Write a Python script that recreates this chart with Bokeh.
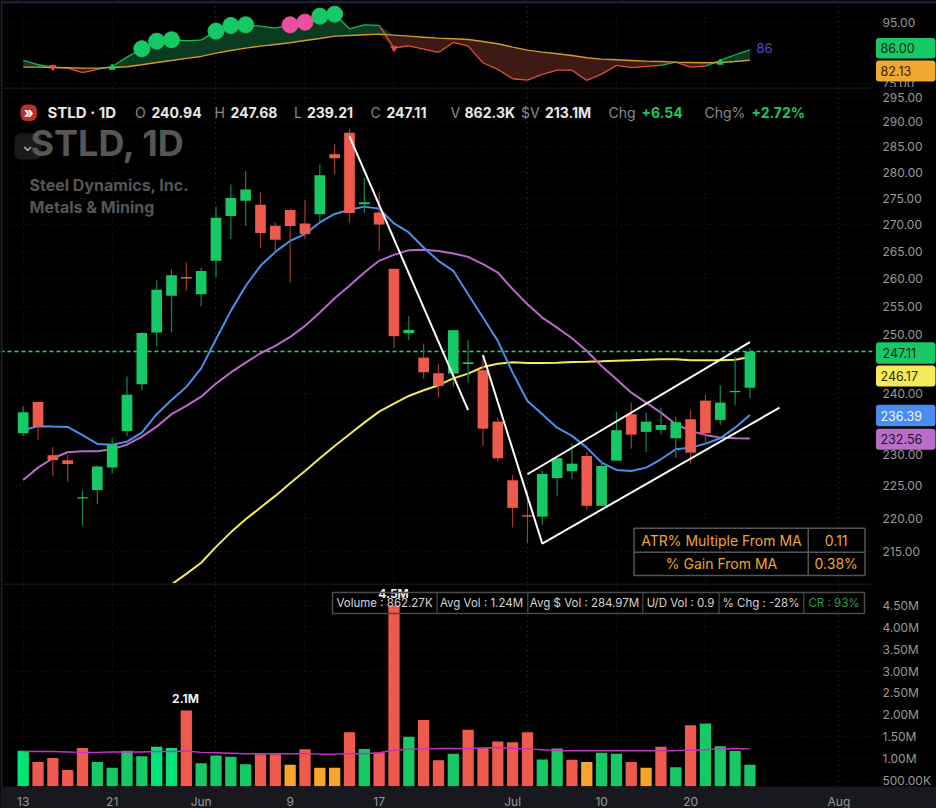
from bokeh.embed import file_html
from bokeh.resources import INLINE
from bokeh.layouts import column
from bokeh.models import (BoxAnnotation, FixedTicker, GlobalInlineStyleSheet, Grid, Label, Range1d,
                          PrintfTickFormatter)
from bokeh.plotting import figure

opens = [233.43,238.58,229.85,229.06,223.02,224.37,227.89,233.8,241.54,250.39,256.89,260.31,257.19,263.24,271.6,274.52,273.76,269.75,272.75,270.19,
         271.91,283.57,287.85,273.82,272.27,261.78,250.28,246.06,243.4,243.33,244.97,243.9,235.31,225.89,220.45,220.23,226.25,227.32,229.75,221.9,
         229.0,236.54,233.64,233.96,232.61,235.71,238.79,235.6,240.19,240.94]
highs = [237.91,238.7,231.2,229.9,224.32,228.27,232.61,242.82,250.46,259.71,261.65,262.93,262.02,273.38,277.62,280.28,276.12,270.38,273.0,274.66,
         281.54,285.64,288.65,278.91,276.26,261.78,253.28,248.48,245.02,250.81,249.07,246.35,235.98,226.73,224.21,227.37,229.38,231.74,230.38,229.06,
         236.92,238.46,236.8,237.63,236.09,237.2,239.74,241.37,246.17,247.68]
lows = [232.99,232.29,226.57,225.67,218.92,222.24,226.94,232.94,240.52,247.96,250.39,257.79,255.09,260.18,267.27,269.75,265.58,265.07,259.28,267.27,
        270.38,279.69,270.38,272.16,265.07,247.73,249.12,242.48,239.29,241.08,241.81,231.36,228.84,218.56,216.21,218.97,223.44,226.1,221.32,221.9,
        229.0,230.93,230.39,233.26,229.48,228.52,231.74,234.77,238.03,239.21]
closes = [236.87,234.5,229.09,228.48,223.24,228.05,231.57,239.78,250.33,257.97,260.62,260.0,261.36,271.28,275.04,276.65,268.39,267.13,269.7,268.2,
          279.42,282.78,272.16,274.2,270.0,249.76,250.86,243.56,241.25,250.81,245.26,234.17,229.38,221.58,220.23,226.89,229.38,228.52,221.9,228.16,
          233.91,233.2,235.31,234.77,235.22,230.28,233.43,238.46,240.41,247.11]
ma_blue = [233.96,234.56,234.5,234.45,233.1,231.69,231.57,232.06,233.52,236.54,238.9,241.08,244.22,249.23,254.21,258.66,262.33,264.89,266.95,268.2,
           270.38,271.98,272.8,273.38,273.0,270.19,268.5,265.69,263.24,261.41,257.19,253.03,248.95,243.5,238.74,236.54,234.33,232.99,231.09,228.68,
           227.52,227.37,227.89,229.22,230.83,231.09,231.74,232.61,234.33,236.39]
ma_purple = [225.94,227.89,229.38,230.34,230.5,230.5,230.83,231.57,232.87,234.5,236.54,237.91,239.45,241.64,243.53,245.19,246.81,248.09,249.63,251.56,
             253.91,256.47,258.69,261.1,263.24,264.34,265.21,265.26,265.07,264.58,263.97,262.64,261.1,258.09,255.4,253.03,251.26,249.4,247.2,244.63,
             242.39,240.12,238.46,236.8,234.89,233.8,233.15,232.71,232.59,232.56]
yellow_first_bar = 9
ma_yellow = [207.9,210.06,211.62,213.27,215.64,217.83,219.83,221.63,223.44,225.41,227.37,229.38,231.36,233.26,235.15,236.97,238.29,239.57,240.52,241.37,
             242.53,243.33,244.45,245.02,245.26,245.14,245.14,245.19,245.31,245.36,245.43,245.53,245.6,245.71,245.78,245.78,245.6,245.6,245.6,245.71,246.17]
rsi = [82.52,81.12,80.34,80.02,78.52,79.59,80.57,83.6,86.34,88.81,89.27,88.94,89.14,92.07,93.93,94.15,93.7,93.05,94.15,95.0,
       96.95,97.61,92.85,94.15,93.93,86.53,87.31,86.21,85.13,88.39,87.18,81.78,79.59,76.56,76.11,77.96,79.36,79.36,76.01,78.06,
       80.9,80.15,80.57,80.9,81.97,80.34,80.67,82.52,84.38,86.0]
rsi_ma = [80.34,80.34,80.24,80.15,80.02,80.02,80.24,80.47,81.12,81.87,82.52,83.18,83.83,84.9,85.78,86.53,87.18,87.74,88.29,89.04,
          89.69,90.44,90.67,90.9,91.09,90.77,90.44,90.11,89.79,89.59,89.37,88.71,87.96,86.86,85.88,85.23,84.71,84.15,83.4,82.95,
          82.75,82.52,82.3,82.2,81.97,81.87,81.78,81.87,82.2,82.6]
rsi_green_dots = [8,9,10,13,14,15,20,21]
rsi_pink_dots = [18,19]
rsi_up_marks = [6,47]
rsi_down_marks = [2,25]
volumes = [1.18,0.92,1.01,0.74,1.24,0.92,0.79,1.18,1.05,1.27,1.24,2.1,0.89,1.07,1.04,0.87,1.1,1.1,0.86,1.21,
           0.79,0.79,1.6,1.22,1.13,4.5,1.5,1.88,0.96,1.11,1.66,1.24,1.39,1.37,1.6,0.98,1.23,0.97,0.92,1.13,
           1.11,0.92,0.79,1.27,0.8,1.76,1.8,1.28,1.17,0.86]
volume_kinds = ["B","r","r","r","r","g","g","g","g","B","B","r","g","g","g","g","r","r","o","r",
                "o","o","r","g","r","r","g","r","r","g","r","r","r","r","r","g","g","r","o","g",
                "g","r","o","r","g","r","g","g","g","g"]
volume_avg = [1.16,1.16,1.16,1.15,1.14,1.14,1.15,1.15,1.15,1.16,1.16,1.17,1.14,1.13,1.12,1.11,1.11,1.11,1.11,1.11,
              1.10,1.10,1.11,1.11,1.13,1.19,1.21,1.22,1.23,1.23,1.23,1.24,1.25,1.23,1.22,1.2,1.18,1.18,1.18,1.18,
              1.18,1.18,1.18,1.18,1.18,1.19,1.2,1.22,1.23,1.22]
trend_x = [[22, 30], [31, 35, 51], [34, 49]]
trend_y = [[287.1, 237.2], [246.5, 216.14, 237.63], [226.84, 248.75]]
date_ticks = [0, 6, 12, 18, 24, 33, 39, 45, 55]
date_labels = ["13", "21", "Jun", "9", "17", "Jul", "10", "20", "Aug"]
date_grid = [0, 6, 19, 25, 40, 46]
month_grid = [13, 34, 55]
price_ticks = [295, 290, 285, 280, 275, 270, 265, 260, 255, 250, 240, 230, 225, 220, 215]
rsi_ticks = [95, 75]
vol_ticks = [0.5, 1.0, 1.5, 2.0, 2.5, 3.0, 3.5, 4.0, 4.5]
vol_labels = ["500.00K", "1.00M", "1.50M", "2.00M", "2.50M", "3.00M", "3.50M", "4.00M", "4.50M"]

W = 936
PANE_W = 873   # where the chart pane ends and the price column starts
H_TOP, H_PRICE, H_VOL, H_AXIS = 87, 496, 203, 22
FONT = "Inter"
GREEN, RED, ORANGE, BRIGHT = "#17c964", "#ee5a4d", "#f8a52b", "#00e676"
AXIS_TEXT = "#9a9a9a"
GRID, GRID_M = "#222222", "#3a3a3a"
STRIP = "#1c2030"
bars = list(range(len(closes)))
x_range = Range1d(-1.53, 61.58)
PANE_END = 57.34


def make(height, y_range, y_type="linear", x_loc=None, mb=0):
    # the frame fills the whole width, so the tags may sit over the axis labels
    f = figure(width=W, height=height + mb, frame_width=W, frame_height=height, x_range=x_range, y_range=y_range,
               y_axis_type=y_type, y_axis_location="right", x_axis_location=x_loc, output_backend="svg",
               toolbar_location=None, min_border_left=0, min_border_right=0, min_border_top=0, min_border_bottom=mb,
               background_fill_color="#000000", border_fill_color="#000000", outline_line_color=None)
    f.grid.visible = False
    ax = f.yaxis[0]
    ax.axis_line_color = None
    ax.major_tick_line_color = None
    ax.minor_tick_line_color = None
    ax.major_tick_out = 0
    ax.major_tick_in = 0
    ax.major_label_standoff = -(W - 882)
    ax.major_label_text_color = AXIS_TEXT
    ax.major_label_text_font = FONT
    ax.major_label_text_font_size = "12px"
    return f


def grids(f, yticks):
    f.add_layout(Grid(dimension=0, ticker=FixedTicker(ticks=date_grid), grid_line_color=GRID, grid_line_dash="1 4"))
    f.add_layout(Grid(dimension=0, ticker=FixedTicker(ticks=month_grid), grid_line_color=GRID_M, grid_line_dash="1 4"))
    f.add_layout(Grid(dimension=1, ticker=FixedTicker(ticks=yticks), grid_line_color=GRID, grid_line_dash="1 4"))
    # keep the column of price labels clear of the horizontal grid
    box(f, PANE_W, W, 0, f.frame_height, fill="#000000", level="underlay")


def box(f, l, r, t, b, fill=None, line=None, radius=0, lw=1, level="overlay"):
    f.add_layout(BoxAnnotation(left=l, right=r, top=t, bottom=b, left_units="canvas", right_units="canvas",
                               top_units="canvas", bottom_units="canvas", fill_color=fill, fill_alpha=1 if fill else 0,
                               line_color=line, line_alpha=1 if line else 0, line_width=lw, border_radius=radius,
                               level=level))


def lab(f, x, y, text, size, color, bold=False, align="left", font=FONT):
    f.add_layout(Label(x=x, y=y, x_units="canvas", y_units="canvas", text=text, text_font=font,
                       text_font_size=f"{size}px", text_color=color, text_align=align, text_baseline="middle",
                       text_font_style="bold" if bold else "normal", level="overlay"))


def tag(f, t, b, fill, txt, tc, tx=880):
    box(f, 875.5, 935, t, b, fill=fill, radius=3)
    lab(f, tx, (t + b) / 2, txt, 12.5, tc)


# ---------- oscillator panel
top = make(H_TOP, Range1d(73.7, 102.07))
top.yaxis[0].ticker = FixedTicker(ticks=rsi_ticks)
top.yaxis[0].formatter = PrintfTickFormatter(format="%.2f")
grids(top, [95, 85, 75])
top.varea(bars, y1=rsi_ma, y2=[max(a, b) for a, b in zip(rsi, rsi_ma)], fill_color="#0b3c21")
top.varea(bars, y1=[min(a, b) for a, b in zip(rsi, rsi_ma)], y2=rsi_ma, fill_color="#3d1a14")
seg_col = [("#16b85c" if rsi[i + 1] >= rsi_ma[i + 1] or rsi[i] > rsi_ma[i] and i < 2 else "#e0503f") for i in bars[:-1]]
top.segment(bars[:-1], rsi[:-1], bars[1:], rsi[1:], line_color=seg_col, line_width=1.3)
top.line(bars, rsi_ma, line_color="#d09a2c", line_width=1.4)
top.scatter(rsi_green_dots, [rsi[i] for i in rsi_green_dots], size=16, color=GREEN)
top.scatter(rsi_pink_dots, [rsi[i] for i in rsi_pink_dots], size=16, color="#ec4f9d")
top.scatter(rsi_up_marks, [rsi_ma[i] for i in rsi_up_marks], marker="triangle", size=6, color=GREEN)
top.scatter(rsi_down_marks, [rsi[i] for i in rsi_down_marks], marker="inverted_triangle", size=6, color="#e0503f")
box(top, 0, W, 0, 3, fill=STRIP)
box(top, 0, 2, 0, H_TOP, fill=STRIP)
lab(top, 756, 47, "86", 13, "#4b4bd0")
tag(top, 37.5, 58, GREEN, f"{rsi[-1]:.2f}", "#0c2a18")
tag(top, 60, 81, "#f0a830", "82.13", "#33230a")

# ---------- price panel
price = make(H_PRICE, Range1d(210.2, 297.06), y_type="log")
price.yaxis[0].ticker = FixedTicker(ticks=price_ticks)
price.yaxis[0].formatter = PrintfTickFormatter(format="%.2f")
grids(price, price_ticks)
price.line([x_range.start, PANE_END], [closes[-1], closes[-1]], line_color="#1ddc6c", line_dash="4 3", line_width=1.5)
price.line(bars[yellow_first_bar:], ma_yellow, line_color="#f5ea5a", line_width=2)
price.line(bars, ma_purple, line_color="#b96ac9", line_width=2)
price.line(bars, ma_blue, line_color="#4a90ee", line_width=2)
up = [c >= o for o, c in zip(opens, closes)]
price.segment(bars, lows, bars, highs, line_color=["#128a47" if u else "#a13a32" for u in up], line_width=1.2)
price.vbar(bars, width=0.72, bottom=[min(o, c) for o, c in zip(opens, closes)],
           top=[max(o, c) for o, c in zip(opens, closes)], fill_color=[GREEN if u else RED for u in up], line_color=None)
for tx, ty in zip(trend_x, trend_y):
    price.line(tx, ty, line_color="#ffffff", line_width=2)
box(price, 0, PANE_W, 0, 1, fill="#262626")
box(price, 0, 2, 0, H_PRICE, fill=STRIP)
# watermark
box(price, 14, 41, 46, 72, fill="#1a1a1a", radius=6)
lab(price, 30, 55, "STLD, 1D", 36, "#565656", bold=True)
lab(price, 29, 97, "Steel Dynamics, Inc.", 16, "#565656", bold=True)
lab(price, 29, 119, "Metals & Mining", 16, "#565656", bold=True)
lab(price, 27, 57, "\u2304", 18, "#b0b0b0", align="center", font="DejaVu Sans")
# legend row
box(price, 20, 36.5, 17, 33.5, fill="#b9302c", radius=6)
lab(price, 28.2, 25, "\u00bb", 15, "#ffffff", bold=True, align="center")
lab(price, 47, 25, "STLD \u00b7 1D", 15, "#e8e8e8", bold=True)
for tx, ty, col, b in [(134.5, "O", "#8a8a8a", False), (151, "240.94", "#e8e8e8", True), (214, "H", "#8a8a8a", False),
                       (230, "247.68", "#e8e8e8", True), (293.5, "L", "#8a8a8a", False), (306.5, "239.21", "#e8e8e8", True),
                       (370, "C", "#8a8a8a", False), (386, "247.11", "#e8e8e8", True), (450, "V", "#8a8a8a", False),
                       (464, "862.3K", "#e8e8e8", True), (520.5, "$V", "#8a8a8a", False), (544.5, "213.1M", "#e8e8e8", True),
                       (608, "Chg", "#8a8a8a", False), (641, "+6.54", GREEN, True), (704, "Chg%", "#8a8a8a", False),
                       (751, "+2.72%", GREEN, True)]:
    lab(price, tx, 25, ty, 14, col, bold=b)
# value tags
tag(price, 254.7, 276.3, GREEN, f"{closes[-1]:.2f}", "#0c2a18", tx=882)
tag(price, 278, 299, "#f5ea5a", f"{ma_yellow[-1]:.2f}", "#2e2c08")
tag(price, 317.3, 338.7, "#4a8cf0", f"{ma_blue[-1]:.2f}", "#f2f6ff")
tag(price, 341.3, 362.3, "#b96fc9", f"{ma_purple[-1]:.2f}", "#24102a")
# ATR table
ORNG = "#f0a62e"
box(price, 633.5, 864.5, 440.7, 488, line="#555555", lw=1.5)
box(price, 807, 808.5, 440.7, 488, fill="#555555")
box(price, 633.5, 864.5, 464, 465.5, fill="#555555")
lab(price, 721, 453, "ATR% Multiple From MA", 14, ORNG, align="center")
lab(price, 835.7, 453, "0.11", 14, ORNG, align="center")
lab(price, 721, 475.5, "% Gain From MA", 14, ORNG, align="center")
lab(price, 835.7, 475.5, "0.38%", 14, ORNG, align="center")

# ---------- volume panel
vol = make(H_VOL, Range1d(0.36, 5.0), x_loc="below", mb=H_AXIS)
vol.yaxis[0].ticker = FixedTicker(ticks=vol_ticks)
vol.yaxis[0].major_label_overrides = dict(zip(vol_ticks, vol_labels))
xa = vol.xaxis[0]
xa.ticker = FixedTicker(ticks=date_ticks)
xa.major_label_overrides = dict(zip(date_ticks, date_labels))
xa.axis_line_color = None
xa.major_tick_line_color = None
xa.minor_tick_line_color = None
xa.major_tick_out = 0
xa.major_tick_in = 0
xa.major_label_standoff = 7
xa.major_label_text_color = AXIS_TEXT
xa.major_label_text_font = FONT
xa.major_label_text_font_size = "12px"
xa.background_fill_color = "#17191e"
grids(vol, vol_ticks)
kind_color = {"g": GREEN, "r": RED, "o": ORANGE, "B": BRIGHT}
vol.vbar(bars, width=0.76, bottom=0, top=volumes, fill_color=[kind_color[k] for k in volume_kinds], line_color=None)
vol.line(bars, volume_avg, line_color="#c630c8", line_width=1.5)
box(vol, 0, PANE_W, 0, 1, fill="#262626")
box(vol, 0, 2, 0, H_VOL + H_AXIS, fill=STRIP)
lab(vol, 185, 115, "2.1M", 12, "#f0f0f0", bold=True, align="center")
lab(vol, 393, 10, "4.5M", 12, "#f0f0f0", bold=True, align="center")
box(vol, 332, 864, 9, 30, line="#4a4a4a", lw=1.5)
for sx in [436, 526.7, 641.7, 718, 802.7]:
    box(vol, sx, sx + 1.2, 9, 30, fill="#4a4a4a")
for cx, t, col in [(384, "Volume : 862.27K", "#d4d4d4"), (481, "Avg Vol : 1.24M", "#d4d4d4"), (584, "Avg $ Vol : 284.97M", "#d4d4d4"),
                   (680, "U/D Vol : 0.9", "#d4d4d4"), (760.5, "% Chg : -28%", "#d4d4d4"), (833.5, "CR : 93%", "#2e9e44")]:
    lab(vol, cx, 19.5, t, 11.5, col, align="center")

page = column(top, price, vol, spacing=0,
              stylesheets=[GlobalInlineStyleSheet(css="html,body{margin:0;background:#000;overflow:hidden}")])
open("out.html", "w").write(file_html(page, INLINE))
